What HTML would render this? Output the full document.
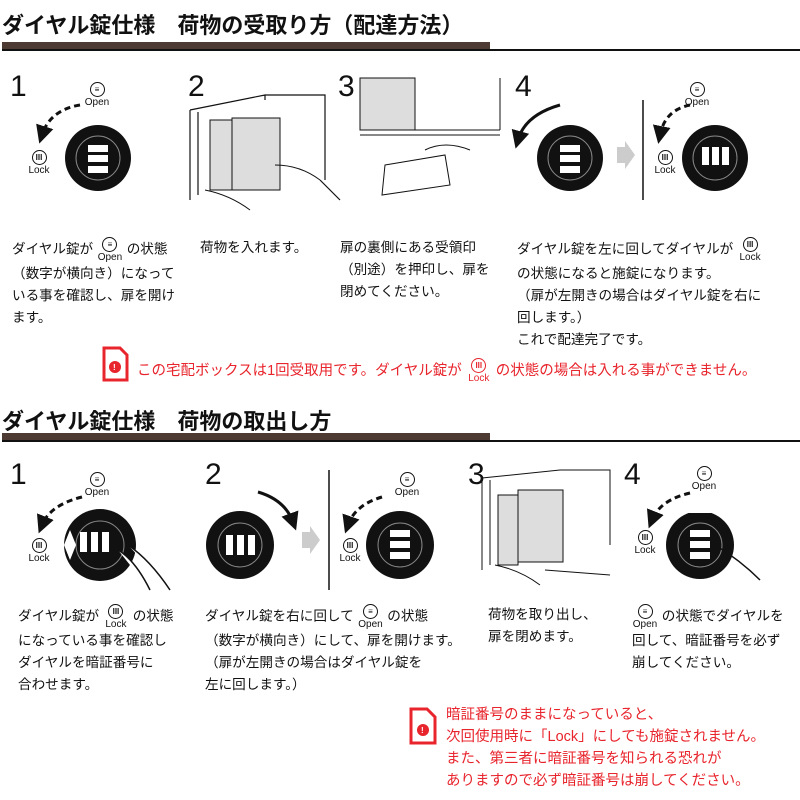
<!DOCTYPE html>
<html><head><meta charset="utf-8"><style>
body{margin:0;width:800px;height:800px;background:#fff;position:relative;overflow:hidden;font-family:"Liberation Sans","Noto Sans CJK JP",sans-serif;color:#111}
.a{position:absolute;white-space:nowrap}
.h{font-size:22px;font-weight:bold;letter-spacing:0px}
.t{font-size:13.6px;line-height:22px}
.r{color:#e8242c;font-size:14.5px}
.n{font-size:30px;font-family:"Liberation Sans",sans-serif}
.ic{display:inline-block;text-align:center;font-size:10px;line-height:10px;vertical-align:middle;width:26px}
.ic b{display:block;margin:0 auto 1px;width:13px;height:13px;border:1.4px solid #111;border-radius:50%;font-size:8px;line-height:13px;font-weight:bold}
.r .ic b{border-color:#e8242c}
</style></head><body>
<div class="a h" style="left:2px;top:8px">ダイヤル錠仕様　荷物の受取り方（配達方法）</div>
<div class="a" style="left:2px;top:42px;width:488px;height:8px;background:#4d3a32"></div>
<div class="a" style="left:2px;top:49px;width:798px;height:1.5px;background:#111"></div>
<div class="a h" style="left:2px;top:404px">ダイヤル錠仕様　荷物の取出し方</div>
<div class="a" style="left:2px;top:433px;width:488px;height:8px;background:#4d3a32"></div>
<div class="a" style="left:2px;top:440px;width:798px;height:1.5px;background:#111"></div>

<svg class="a" style="left:0;top:0" width="800" height="800">
<defs><marker id="ah" markerWidth="6" markerHeight="6" refX="3" refY="3" orient="auto"><path d="M0,0L6,3L0,6z" fill="#111"/></marker></defs>
<g stroke="#111" stroke-width="3" fill="none">
<path d="M80,105 Q50,110 42,135" stroke-dasharray="6,4" marker-end="url(#ah)"/>
<path d="M560,105 Q525,115 518,140" marker-end="url(#ah)"/>
<path d="M690,105 Q665,110 660,135" stroke-dasharray="6,4" marker-end="url(#ah)"/>
<path d="M82,497 Q50,505 42,525" stroke-dasharray="6,4" marker-end="url(#ah)"/>
<path d="M258,492 Q285,500 293,522" marker-end="url(#ah)"/>
<path d="M382,497 Q355,505 348,525" stroke-dasharray="6,4" marker-end="url(#ah)"/>
<path d="M690,493 Q660,500 652,520" stroke-dasharray="6,4" marker-end="url(#ah)"/>
</g>
<g fill="#111">
<circle cx="98" cy="158" r="33"/><circle cx="570" cy="158" r="33"/><circle cx="715" cy="158" r="33"/>
<circle cx="100" cy="545" r="36"/><circle cx="240" cy="545" r="34"/><circle cx="400" cy="545" r="34"/><circle cx="700" cy="545" r="34"/>
</g>
<g fill="none" stroke="#888" stroke-width="1">
<circle cx="98" cy="158" r="22"/><circle cx="570" cy="158" r="22"/><circle cx="715" cy="158" r="22"/>
<circle cx="100" cy="545" r="24"/><circle cx="240" cy="545" r="22"/><circle cx="400" cy="545" r="22"/><circle cx="700" cy="545" r="22"/>
</g>
<g fill="#fff">
<rect x="88" y="145" width="20" height="7"/><rect x="88" y="155" width="20" height="7"/><rect x="88" y="166" width="20" height="7"/>
<rect x="560" y="145" width="20" height="7"/><rect x="560" y="155" width="20" height="7"/><rect x="560" y="166" width="20" height="7"/>
<rect x="702" y="147" width="7" height="18"/><rect x="712" y="147" width="7" height="18"/><rect x="722" y="147" width="7" height="18"/>
<rect x="80" y="532" width="7" height="20"/><rect x="91" y="532" width="7" height="20"/><rect x="102" y="532" width="7" height="20"/>
<rect x="226" y="535" width="7" height="20"/><rect x="237" y="535" width="7" height="20"/><rect x="248" y="535" width="7" height="20"/>
<rect x="390" y="530" width="20" height="7"/><rect x="390" y="541" width="20" height="7"/><rect x="390" y="552" width="20" height="7"/>
<rect x="690" y="530" width="20" height="7"/><rect x="690" y="541" width="20" height="7"/><rect x="690" y="552" width="20" height="7"/>
<path d="M70,530 L64,545 L70,560 L76,545z"/>
<path d="M688,513 L700,507 L712,513z"/>
</g>
<path d="M118,550 Q135,560 150,590 M128,545 Q150,560 170,590" stroke="#111" stroke-width="1.5" fill="#fff"/>
<path d="M715,545 Q740,560 760,580" stroke="#111" stroke-width="1.5" fill="none"/>
<path d="M617,147h8v-6l10,14-10,14v-6h-8z" fill="#ccc"/>
<path d="M302,532h8v-6l10,14-10,14v-6h-8z" fill="#ccc"/>
<line x1="643" y1="100" x2="643" y2="200" stroke="#111" stroke-width="1.5"/>
<line x1="329" y1="470" x2="329" y2="590" stroke="#111" stroke-width="1.5"/>
<g stroke="#111" stroke-width="1.2" fill="none">
<path d="M190,110 L265,95 L325,95 L325,180 M190,110 V200 M198,112 V195 M265,95 V100"/>
<path d="M320,180 L340,200" />
</g>
<rect x="210" y="120" width="22" height="70" fill="#ddd" stroke="#111"/>
<rect x="232" y="118" width="48" height="72" fill="#ddd" stroke="#111"/>
<path d="M205,190 Q230,195 250,210 M275,165 Q300,165 320,180" stroke="#111" fill="none"/>
<rect x="360" y="78" width="55" height="52" fill="#ddd" stroke="#111"/>
<path d="M360,130 H500 M360,135 H500 M415,78 V130 M500,78 V130" stroke="#111" fill="none"/>
<path d="M385,165 L445,155 L450,185 L382,195z" fill="#fff" stroke="#111"/>
<path d="M425,150 Q445,140 470,150" stroke="#111" fill="none"/>
<path d="M482,478 L560,470 L610,470 L610,545 M482,478 V570 M490,480 V565" stroke="#111" fill="none"/>
<rect x="498" y="495" width="20" height="70" fill="#ddd" stroke="#111"/>
<rect x="518" y="490" width="45" height="72" fill="#ddd" stroke="#111"/>
<path d="M495,565 Q520,570 540,585 M545,570 L610,575" stroke="#111" fill="none"/>
<g>
<path d="M104,348 h16 l7,7 v25 h-23z" fill="#fff" stroke="#e8242c" stroke-width="3"/>
<circle cx="115" cy="367" r="6" fill="#e8242c"/>
<path d="M411,709 h16 l8,8 v26 h-24z" fill="#fff" stroke="#e8242c" stroke-width="3"/>
<circle cx="423" cy="730" r="6" fill="#e8242c"/>
</g>
<g fill="#fff" font-size="8" font-weight="bold" font-family="Liberation Sans"><text x="113" y="370">!</text><text x="421" y="733">!</text></g>
</svg>

<div class="a n" style="left:10px;top:70px">1</div>
<div class="a n" style="left:188px;top:70px">2</div>
<div class="a n" style="left:338px;top:70px">3</div>
<div class="a n" style="left:515px;top:70px">4</div>
<div class="a n" style="left:10px;top:458px">1</div>
<div class="a n" style="left:205px;top:458px">2</div>
<div class="a n" style="left:468px;top:458px">3</div>
<div class="a n" style="left:624px;top:458px">4</div>

<div class="a" style="left:82px;top:82px"><span class="ic" style="width:30px"><b>≡</b>Open</span></div>
<div class="a" style="left:24px;top:150px"><span class="ic" style="width:30px"><b>III</b>Lock</span></div>
<div class="a" style="left:682px;top:82px"><span class="ic" style="width:30px"><b>≡</b>Open</span></div>
<div class="a" style="left:650px;top:150px"><span class="ic" style="width:30px"><b>III</b>Lock</span></div>
<div class="a" style="left:82px;top:472px"><span class="ic" style="width:30px"><b>≡</b>Open</span></div>
<div class="a" style="left:24px;top:538px"><span class="ic" style="width:30px"><b>III</b>Lock</span></div>
<div class="a" style="left:392px;top:472px"><span class="ic" style="width:30px"><b>≡</b>Open</span></div>
<div class="a" style="left:335px;top:538px"><span class="ic" style="width:30px"><b>III</b>Lock</span></div>
<div class="a" style="left:689px;top:466px"><span class="ic" style="width:30px"><b>≡</b>Open</span></div>
<div class="a" style="left:630px;top:530px"><span class="ic" style="width:30px"><b>III</b>Lock</span></div>

<div class="a t" style="left:12px;top:237px">ダイヤル錠が <span class="ic"><b>≡</b>Open</span> の状態<br>（数字が横向き）になって<br>いる事を確認し、扉を開け<br>ます。</div>
<div class="a t" style="left:200px;top:237px">荷物を入れます。</div>
<div class="a t" style="left:340px;top:237px">扉の裏側にある受領印<br>（別途）を押印し、扉を<br>閉めてください。</div>
<div class="a t" style="left:517px;top:237px">ダイヤル錠を左に回してダイヤルが <span class="ic"><b>III</b>Lock</span><br>の状態になると施錠になります。<br>（扉が左開きの場合はダイヤル錠を右に<br>回します。）<br>これで配達完了です。</div>
<div class="a t r" style="left:137px;top:358px">この宅配ボックスは1回受取用です。ダイヤル錠が <span class="ic"><b>III</b>Lock</span> の状態の場合は入れる事ができません。</div>

<div class="a t" style="left:18px;top:604px">ダイヤル錠が <span class="ic"><b>III</b>Lock</span> の状態<br>になっている事を確認し<br>ダイヤルを暗証番号に<br>合わせます。</div>
<div class="a t" style="left:205px;top:604px">ダイヤル錠を右に回して <span class="ic"><b>≡</b>Open</span> の状態<br>（数字が横向き）にして、扉を開けます。<br>（扉が左開きの場合はダイヤル錠を<br>左に回します。）</div>
<div class="a t" style="left:488px;top:604px">荷物を取り出し、<br>扉を閉めます。</div>
<div class="a t" style="left:632px;top:604px"><span class="ic"><b>≡</b>Open</span> の状態でダイヤルを<br>回して、暗証番号を必ず<br>崩してください。</div>
<div class="a t r" style="left:446px;top:704px">暗証番号のままになっていると、<br>次回使用時に「Lock」にしても施錠されません。<br>また、第三者に暗証番号を知られる恐れが<br>ありますので必ず暗証番号は崩してください。</div>
</body></html>
